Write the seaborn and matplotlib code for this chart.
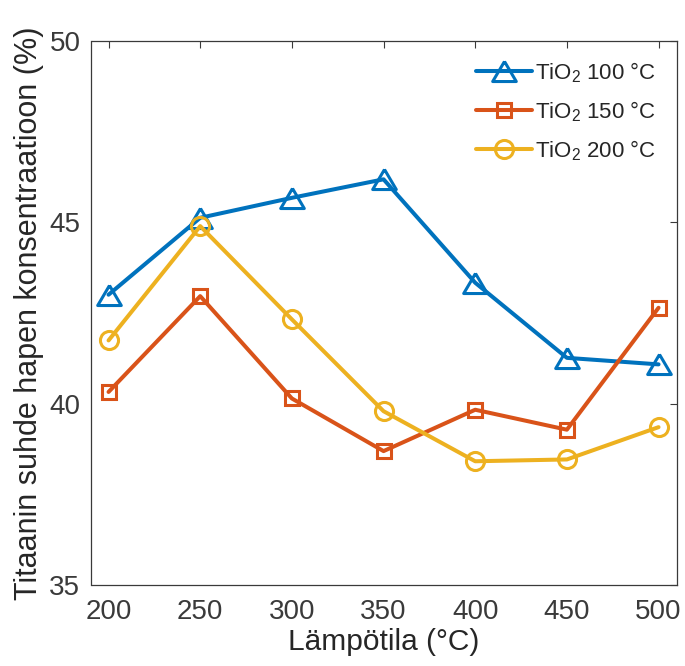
import matplotlib
matplotlib.use("Agg")
import matplotlib.pyplot as plt
import seaborn as sns
import pandas as pd

temps = [200, 250, 300, 350, 400, 450, 500]
tio2_100 = [43.0, 45.12, 45.67, 46.18, 43.33, 41.26, 41.08]
tio2_150 = [40.32, 42.96, 40.14, 38.69, 39.83, 39.28, 42.64]
tio2_200 = [41.74, 44.89, 42.32, 39.79, 38.41, 38.46, 39.35]
series_names = ["TiO$_2$ 100 °C", "TiO$_2$ 150 °C", "TiO$_2$ 200 °C"]
y_ticks = [35, 40, 45, 50]
x_ticks = [200, 250, 300, 350, 400, 450, 500]

sns.set_style("white")
plt.rcParams['font.family'] = ['Liberation Sans', 'DejaVu Sans']
plt.rcParams['mathtext.fontset'] = 'custom'
plt.rcParams['mathtext.rm'] = 'Liberation Sans'

df = pd.DataFrame({
    "T": temps * 3,
    "val": tio2_100 + tio2_150 + tio2_200,
    "series": [series_names[0]] * 7 + [series_names[1]] * 7 + [series_names[2]] * 7,
})

colors = ["#0072BD", "#D95319", "#EDB120"]
tri = [(0, 0.85), (-1, -0.85), (1, -0.85), (0, 0.85)]
markers = [tri, "s", "o"]
msizes = [17, 9.5, 13]

fig = plt.figure(figsize=(6.85, 6.66), dpi=100)
ax = fig.add_axes([91.5/685, 1 - 585/666, (676.7-91.5)/685, (585-40.7)/666])

for name, c, m, ms in zip(series_names, colors, markers, msizes):
    sub = df[df["series"] == name]
    sns.lineplot(data=sub, x="T", y="val", ax=ax, color=c, marker=m,
                 markersize=ms, markerfacecolor="none",
                 markeredgecolor=c, markeredgewidth=2.2, linewidth=2.9,
                 label=name)

ax.set_xlim(190.7, 509.9)
ax.set_ylim(35, 50)
ax.set_xticks(x_ticks)
ax.set_yticks(y_ticks)
ax.tick_params(axis="both", direction="in", length=5, width=0.8, labelsize=20,
               top=True, right=True, colors="#3a3a3a", pad=8)
ax.tick_params(axis="x", pad=10)
for s in ax.spines.values():
    s.set_color("#3a3a3a")
    s.set_linewidth(0.9)
ax.set_xlabel("Lämpötila (°C)", fontsize=21.5, color="#262626", labelpad=2)
ax.set_ylabel("Titaanin suhde hapen konsentraatioon (%)", fontsize=22,
              color="#262626", labelpad=4)

leg = ax.legend(loc="upper right", fontsize=16, frameon=False,
                handlelength=2.5, borderpad=0.3,
                labelspacing=0.65, handletextpad=0.15,
                bbox_to_anchor=(0.995, 0.997))

fig.savefig("out.png", dpi=100)
